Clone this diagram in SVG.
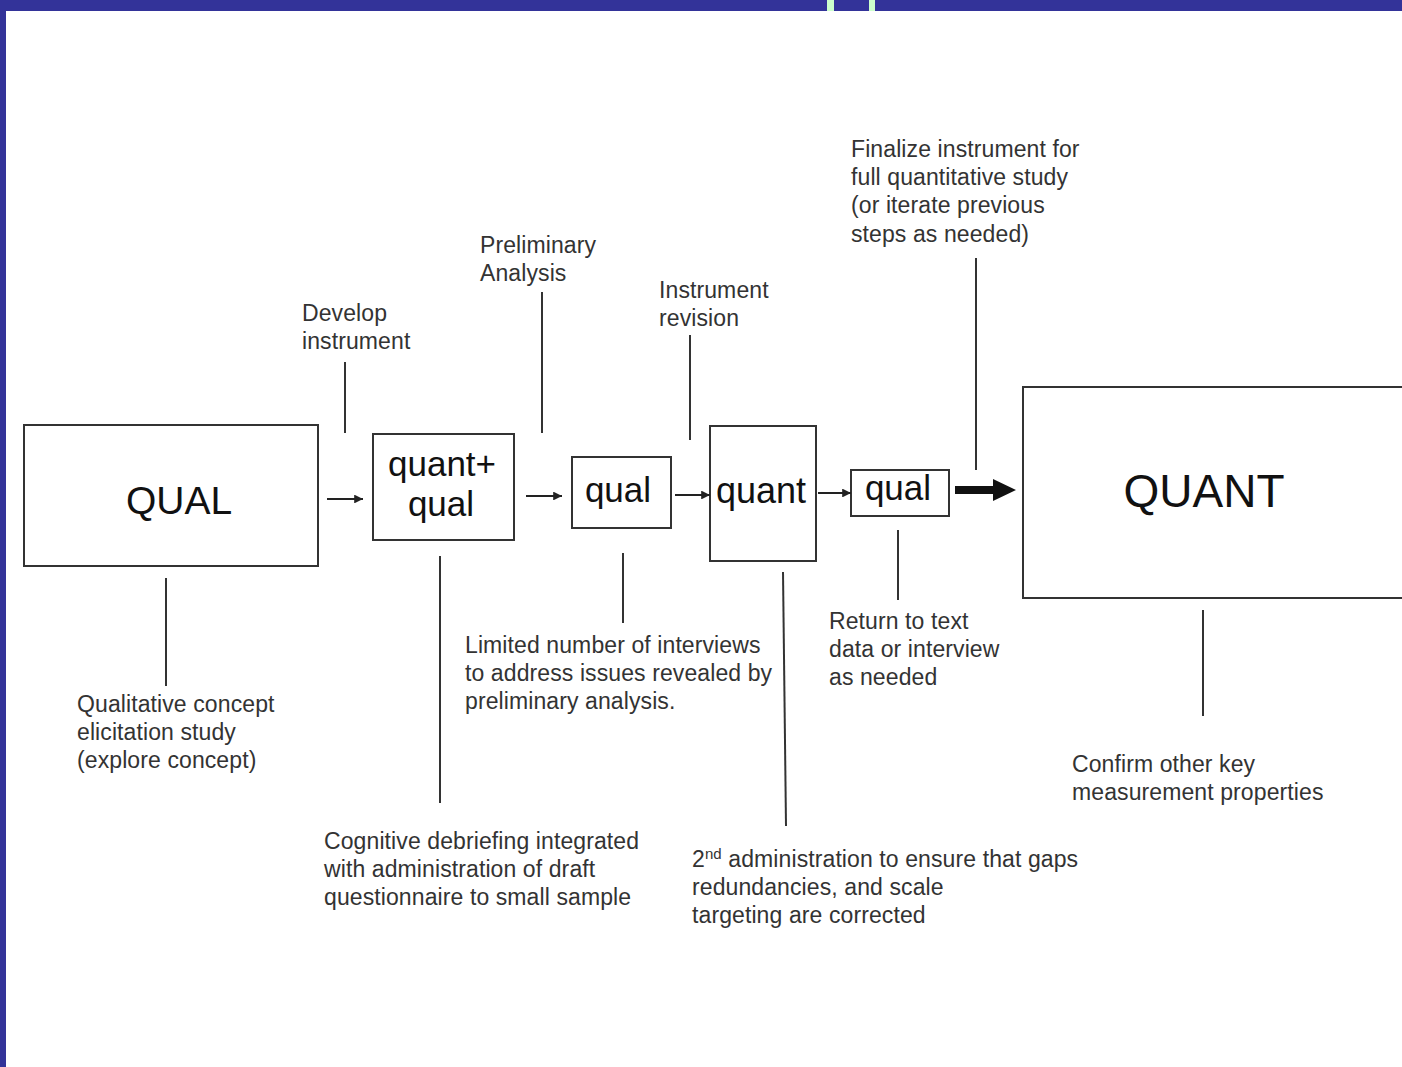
<svg xmlns="http://www.w3.org/2000/svg" width="1402" height="1067" viewBox="0 0 1402 1067">
  <style>
    .box { fill: #ffffff; stroke: #333333; stroke-width: 2; }
    .title { font-family: "Liberation Sans", Arial, sans-serif; fill: #111111; text-anchor: middle; }
    .note { font-family: "Liberation Sans", Arial, sans-serif; font-size: 23px; fill: #333333; letter-spacing: 0.1px; }
    .lead { stroke: #333333; stroke-width: 2; fill: none; }
    .flow { stroke: #222222; stroke-width: 2; fill: none; marker-end: url(#head); }
  </style>
  <defs>
    <marker id="head" viewBox="0 0 10 10" refX="10" refY="5" markerWidth="5" markerHeight="4.4" orient="auto" markerUnits="strokeWidth">
      <path d="M0,0 L10,5 L0,10 z" fill="#222222"/>
    </marker>
  </defs>

  <!-- slide frame -->
  <rect x="0" y="0" width="1402" height="1067" fill="#ffffff"/>
  <rect x="0" y="0" width="1402" height="11" fill="#333399"/>
  <rect x="0" y="0" width="6" height="1067" fill="#333399"/>
  <rect x="827" y="0" width="7" height="11" fill="#ccffcc"/>
  <rect x="869" y="0" width="6" height="11" fill="#ccffcc"/>

  <!-- stage boxes -->
  <g id="qual-start">
    <rect class="box" x="24" y="425" width="294" height="141"/>
    <text class="title" x="179" y="514" font-size="39">QUAL</text>
  </g>
  <g id="quant-qual">
    <rect class="box" x="373" y="434" width="141" height="106"/>
    <text class="title" x="442" y="476" font-size="35">quant+</text>
    <text class="title" x="441" y="516" font-size="35">qual</text>
  </g>
  <g id="qual-1">
    <rect class="box" x="572" y="457" width="99" height="71"/>
    <text class="title" x="618" y="502" font-size="35">qual</text>
  </g>
  <g id="quant">
    <rect class="box" x="710" y="426" width="106" height="135"/>
    <text class="title" x="761" y="503" font-size="36">quant</text>
  </g>
  <g id="qual-2">
    <rect class="box" x="851" y="470" width="98" height="46"/>
    <text class="title" x="898" y="500" font-size="35">qual</text>
  </g>
  <g id="quant-final">
    <rect class="box" x="1023" y="387" width="400" height="211"/>
    <text class="title" x="1204" y="507" font-size="46">QUANT</text>
  </g>

  <!-- connectors: flow arrows and label leader lines -->
  <g id="connectors">
    <line class="flow" x1="327" y1="499" x2="363" y2="499"/>
    <line class="flow" x1="526" y1="496" x2="562" y2="496"/>
    <line class="flow" x1="675" y1="495" x2="710" y2="495"/>
    <line class="flow" x1="818" y1="493" x2="851" y2="493"/>
    <path d="M955,486 L993,486 L993,479 L1016,490 L993,501 L993,494 L955,494 z" fill="#111111"/>

    <line class="lead" x1="166" y1="578" x2="166" y2="686"/>
    <line class="lead" x1="345" y1="362" x2="345" y2="433"/>
    <line class="lead" x1="542" y1="292" x2="542" y2="433"/>
    <line class="lead" x1="690" y1="335" x2="690" y2="440"/>
    <line class="lead" x1="976" y1="258" x2="976" y2="470"/>
    <line class="lead" x1="440" y1="556" x2="440" y2="803"/>
    <line class="lead" x1="623" y1="553" x2="623" y2="623"/>
    <line class="lead" x1="783" y1="572" x2="786" y2="826"/>
    <line class="lead" x1="898" y1="530" x2="898" y2="600"/>
    <line class="lead" x1="1203" y1="610" x2="1203" y2="716"/>
  </g>

  <!-- annotations -->
  <g id="label-develop">
    <text class="note" x="302" y="321">Develop</text>
    <text class="note" x="302" y="349">instrument</text>
  </g>
  <g id="label-preliminary">
    <text class="note" x="480" y="253">Preliminary</text>
    <text class="note" x="480" y="281">Analysis</text>
  </g>
  <g id="label-revision">
    <text class="note" x="659" y="298">Instrument</text>
    <text class="note" x="659" y="326">revision</text>
  </g>
  <g id="label-finalize">
    <text class="note" x="851" y="157">Finalize instrument for</text>
    <text class="note" x="851" y="185">full quantitative study</text>
    <text class="note" x="851" y="213">(or iterate previous</text>
    <text class="note" x="851" y="242">steps as needed)</text>
  </g>
  <g id="label-elicitation">
    <text class="note" x="77" y="712">Qualitative concept</text>
    <text class="note" x="77" y="740">elicitation study</text>
    <text class="note" x="77" y="768">(explore concept)</text>
  </g>
  <g id="label-cognitive">
    <text class="note" x="324" y="849">Cognitive debriefing integrated</text>
    <text class="note" x="324" y="877">with administration of draft</text>
    <text class="note" x="324" y="905">questionnaire to small sample</text>
  </g>
  <g id="label-interviews">
    <text class="note" x="465" y="653">Limited number of interviews</text>
    <text class="note" x="465" y="681">to address issues revealed by</text>
    <text class="note" x="465" y="709">preliminary analysis.</text>
  </g>
  <g id="label-second">
    <text class="note" x="692" y="867">2<tspan font-size="15" dy="-8">nd</tspan><tspan dy="8"> administration to ensure that gaps</tspan></text>
    <text class="note" x="692" y="895">redundancies, and scale</text>
    <text class="note" x="692" y="923">targeting are corrected</text>
  </g>
  <g id="label-return">
    <text class="note" x="829" y="629">Return to text</text>
    <text class="note" x="829" y="657">data or interview</text>
    <text class="note" x="829" y="685">as needed</text>
  </g>
  <g id="label-confirm">
    <text class="note" x="1072" y="772">Confirm other key</text>
    <text class="note" x="1072" y="800">measurement properties</text>
  </g>
</svg>
